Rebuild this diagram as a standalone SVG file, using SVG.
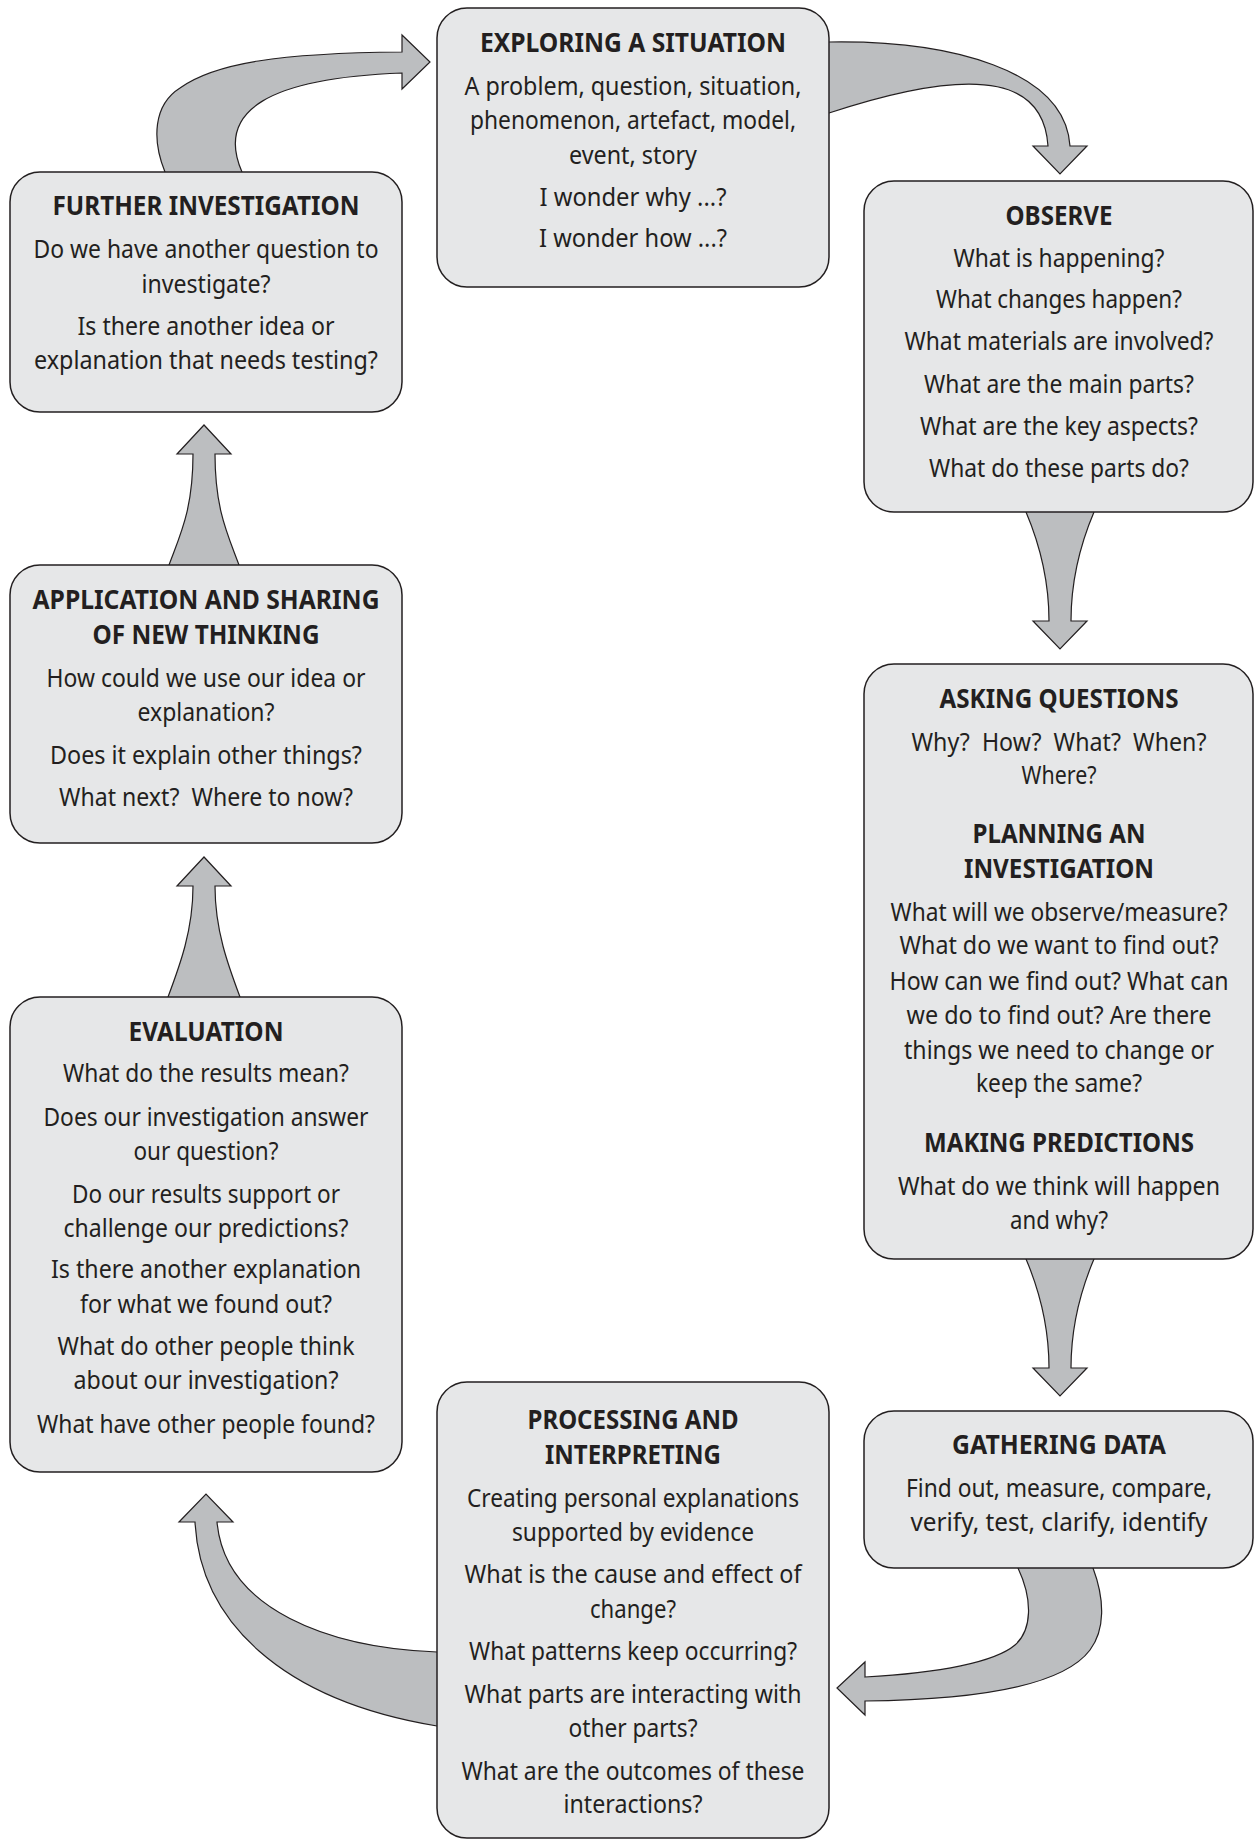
<svg xmlns="http://www.w3.org/2000/svg" width="1255" height="1841" viewBox="0 0 1255 1841">
<style>
.box{fill:#e6e7e8;stroke:#231f20;stroke-width:1.5}
.arr{fill:#bcbec0;stroke:#231f20;stroke-width:1.2;stroke-linejoin:miter}
.t{font-family:"Noto Sans","Liberation Sans",sans-serif;font-size:26px;font-weight:bold;fill:#231f20;text-anchor:middle}
.b{font-family:"Noto Sans","Liberation Sans",sans-serif;font-size:24.5px;fill:#231f20;text-anchor:middle}
</style>
<rect x="0" y="0" width="1255" height="1841" fill="#ffffff"/>
<g id="connectors">
<path class="arr" d="M165,176 L165,172 C152,140 153,105 180,88 C215,63 280,53 402,52 L402,35 L430,62 L402,89 L402,73 C270,78 215,110 242,172 L242,176 Z"/>
<path class="arr" d="M825,42 L829,42 C950,40 1065,70 1070,146 L1087,146 L1060,174 L1033,146 L1048,146 C1044,85 990,60 829,113 L825,113 Z"/>
<path class="arr" d="M1026,508 L1026,512 C1040,545 1049,580 1049,621 L1033,621 L1060,649 L1087,621 L1071,621 C1071,580 1080,545 1094,512 L1094,508 Z"/>
<path class="arr" d="M1026,1255 L1026,1259 C1040,1292 1049,1327 1049,1368 L1033,1368 L1060,1396 L1087,1368 L1071,1368 C1071,1327 1080,1292 1094,1259 L1094,1255 Z"/>
<path class="arr" d="M1093,1564 L1093,1568 C1105,1600 1105,1630 1090,1650 C1060,1690 960,1700 865,1701 L865,1715 L837,1688 L865,1662 L865,1677 C940,1673 995,1662 1015,1645 C1032,1630 1033,1600 1018,1568 L1018,1564 Z"/>
<path class="arr" d="M441,1652 L437,1652 C330,1648 225,1610 217,1522 L233,1522 L206,1494 L179,1522 L195,1522 C200,1620 280,1700 437,1726 L441,1726 Z"/>
<path class="arr" d="M168,1001 L168,997 C180,965 193,930 193,886 L177,886 L204,857 L231,886 L215,886 C215,930 228,965 240,997 L240,1001 Z"/>
<path class="arr" d="M169,569 L169,565 C180,535 193,510 193,454 L177,454 L204,425 L231,454 L215,454 C215,510 228,535 239,565 L239,569 Z"/>
</g>
<g id="exploring">
<rect class="box" x="437" y="8" width="392" height="279" rx="30"/>
<text class="t" x="633" y="52" textLength="306" lengthAdjust="spacingAndGlyphs">EXPLORING A SITUATION</text>
<text class="b" x="633" y="95" textLength="337" lengthAdjust="spacingAndGlyphs">A problem, question, situation,</text>
<text class="b" x="633" y="129" textLength="326" lengthAdjust="spacingAndGlyphs">phenomenon, artefact, model,</text>
<text class="b" x="633" y="164" textLength="128" lengthAdjust="spacingAndGlyphs">event, story</text>
<text class="b" x="633" y="206" textLength="187" lengthAdjust="spacingAndGlyphs">I wonder why ...?</text>
<text class="b" x="633" y="247" textLength="188" lengthAdjust="spacingAndGlyphs">I wonder how ...?</text>
</g>
<g id="further">
<rect class="box" x="10" y="172" width="392" height="240" rx="30"/>
<text class="t" x="206" y="215" textLength="307" lengthAdjust="spacingAndGlyphs">FURTHER INVESTIGATION</text>
<text class="b" x="206" y="258" textLength="345" lengthAdjust="spacingAndGlyphs">Do we have another question to</text>
<text class="b" x="206" y="293" textLength="129" lengthAdjust="spacingAndGlyphs">investigate?</text>
<text class="b" x="206" y="335" textLength="257" lengthAdjust="spacingAndGlyphs">Is there another idea or</text>
<text class="b" x="206" y="369" textLength="344" lengthAdjust="spacingAndGlyphs">explanation that needs testing?</text>
</g>
<g id="observe">
<rect class="box" x="864" y="181" width="389" height="331" rx="30"/>
<text class="t" x="1059" y="225" textLength="107" lengthAdjust="spacingAndGlyphs">OBSERVE</text>
<text class="b" x="1059" y="267" textLength="211" lengthAdjust="spacingAndGlyphs">What is happening?</text>
<text class="b" x="1059" y="308" textLength="246" lengthAdjust="spacingAndGlyphs">What changes happen?</text>
<text class="b" x="1059" y="350" textLength="309" lengthAdjust="spacingAndGlyphs">What materials are involved?</text>
<text class="b" x="1059" y="393" textLength="270" lengthAdjust="spacingAndGlyphs">What are the main parts?</text>
<text class="b" x="1059" y="435" textLength="278" lengthAdjust="spacingAndGlyphs">What are the key aspects?</text>
<text class="b" x="1059" y="477" textLength="260" lengthAdjust="spacingAndGlyphs">What do these parts do?</text>
</g>
<g id="application">
<rect class="box" x="10" y="565" width="392" height="278" rx="30"/>
<text class="t" x="206" y="609" textLength="347" lengthAdjust="spacingAndGlyphs">APPLICATION AND SHARING</text>
<text class="t" x="206" y="644" textLength="227" lengthAdjust="spacingAndGlyphs">OF NEW THINKING</text>
<text class="b" x="206" y="687" textLength="319" lengthAdjust="spacingAndGlyphs">How could we use our idea or</text>
<text class="b" x="206" y="721" textLength="137" lengthAdjust="spacingAndGlyphs">explanation?</text>
<text class="b" x="206" y="764" textLength="312" lengthAdjust="spacingAndGlyphs">Does it explain other things?</text>
<text class="b" x="206" y="806" textLength="294" lengthAdjust="spacingAndGlyphs" xml:space="preserve">What next?  Where to now?</text>
</g>
<g id="asking">
<rect class="box" x="864" y="664" width="389" height="595" rx="30"/>
<text class="t" x="1059" y="708" textLength="239" lengthAdjust="spacingAndGlyphs">ASKING QUESTIONS</text>
<text class="b" x="1059" y="751" textLength="295" lengthAdjust="spacingAndGlyphs" xml:space="preserve">Why?  How?  What?  When?</text>
<text class="b" x="1059" y="784" textLength="75" lengthAdjust="spacingAndGlyphs">Where?</text>
<text class="t" x="1059" y="843" textLength="173" lengthAdjust="spacingAndGlyphs">PLANNING AN</text>
<text class="t" x="1059" y="878" textLength="190" lengthAdjust="spacingAndGlyphs">INVESTIGATION</text>
<text class="b" x="1059" y="921" textLength="337" lengthAdjust="spacingAndGlyphs">What will we observe/measure?</text>
<text class="b" x="1059" y="954" textLength="319" lengthAdjust="spacingAndGlyphs">What do we want to find out?</text>
<text class="b" x="1059" y="990" textLength="339" lengthAdjust="spacingAndGlyphs">How can we find out? What can</text>
<text class="b" x="1059" y="1024" textLength="305" lengthAdjust="spacingAndGlyphs">we do to find out? Are there</text>
<text class="b" x="1059" y="1059" textLength="310" lengthAdjust="spacingAndGlyphs">things we need to change or</text>
<text class="b" x="1059" y="1092" textLength="166" lengthAdjust="spacingAndGlyphs">keep the same?</text>
<text class="t" x="1059" y="1152" textLength="270" lengthAdjust="spacingAndGlyphs">MAKING PREDICTIONS</text>
<text class="b" x="1059" y="1195" textLength="322" lengthAdjust="spacingAndGlyphs">What do we think will happen</text>
<text class="b" x="1059" y="1229" textLength="98" lengthAdjust="spacingAndGlyphs">and why?</text>
</g>
<g id="evaluation">
<rect class="box" x="10" y="997" width="392" height="475" rx="30"/>
<text class="t" x="206" y="1041" textLength="155" lengthAdjust="spacingAndGlyphs">EVALUATION</text>
<text class="b" x="206" y="1082" textLength="286" lengthAdjust="spacingAndGlyphs">What do the results mean?</text>
<text class="b" x="206" y="1126" textLength="325" lengthAdjust="spacingAndGlyphs">Does our investigation answer</text>
<text class="b" x="206" y="1160" textLength="145" lengthAdjust="spacingAndGlyphs">our question?</text>
<text class="b" x="206" y="1203" textLength="268" lengthAdjust="spacingAndGlyphs">Do our results support or</text>
<text class="b" x="206" y="1237" textLength="285" lengthAdjust="spacingAndGlyphs">challenge our predictions?</text>
<text class="b" x="206" y="1278" textLength="310" lengthAdjust="spacingAndGlyphs">Is there another explanation</text>
<text class="b" x="206" y="1313" textLength="252" lengthAdjust="spacingAndGlyphs">for what we found out?</text>
<text class="b" x="206" y="1355" textLength="297" lengthAdjust="spacingAndGlyphs">What do other people think</text>
<text class="b" x="206" y="1389" textLength="265" lengthAdjust="spacingAndGlyphs">about our investigation?</text>
<text class="b" x="206" y="1433" textLength="338" lengthAdjust="spacingAndGlyphs">What have other people found?</text>
</g>
<g id="processing">
<rect class="box" x="437" y="1382" width="392" height="456" rx="30"/>
<text class="t" x="633" y="1429" textLength="211" lengthAdjust="spacingAndGlyphs">PROCESSING AND</text>
<text class="t" x="633" y="1464" textLength="176" lengthAdjust="spacingAndGlyphs">INTERPRETING</text>
<text class="b" x="633" y="1507" textLength="332" lengthAdjust="spacingAndGlyphs">Creating personal explanations</text>
<text class="b" x="633" y="1541" textLength="242" lengthAdjust="spacingAndGlyphs">supported by evidence</text>
<text class="b" x="633" y="1583" textLength="337" lengthAdjust="spacingAndGlyphs">What is the cause and effect of</text>
<text class="b" x="633" y="1618" textLength="86" lengthAdjust="spacingAndGlyphs">change?</text>
<text class="b" x="633" y="1660" textLength="328" lengthAdjust="spacingAndGlyphs">What patterns keep occurring?</text>
<text class="b" x="633" y="1703" textLength="337" lengthAdjust="spacingAndGlyphs">What parts are interacting with</text>
<text class="b" x="633" y="1737" textLength="129" lengthAdjust="spacingAndGlyphs">other parts?</text>
<text class="b" x="633" y="1780" textLength="343" lengthAdjust="spacingAndGlyphs">What are the outcomes of these</text>
<text class="b" x="633" y="1813" textLength="139" lengthAdjust="spacingAndGlyphs">interactions?</text>
</g>
<g id="gathering">
<rect class="box" x="864" y="1411" width="389" height="157" rx="30"/>
<text class="t" x="1059" y="1454" textLength="214" lengthAdjust="spacingAndGlyphs">GATHERING DATA</text>
<text class="b" x="1059" y="1497" textLength="306" lengthAdjust="spacingAndGlyphs">Find out, measure, compare,</text>
<text class="b" x="1059" y="1531" textLength="297" lengthAdjust="spacingAndGlyphs">verify, test, clarify, identify</text>
</g>
</svg>
